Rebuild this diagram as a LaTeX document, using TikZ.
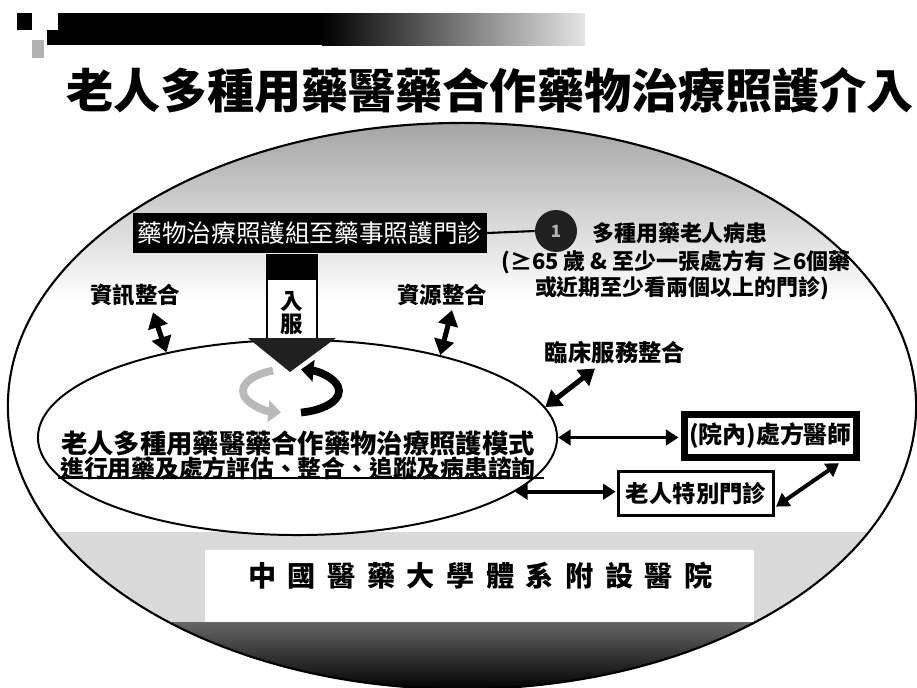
\documentclass[tikz,border=0pt]{standalone}
\usepackage{fontspec}
\usetikzlibrary{arrows.meta,shapes.geometric}
\newfontfamily\cjk{Noto Sans CJK TC}
\newcommand\cgap{\hspace{0.41em}}
\begin{document}
\begin{tikzpicture}[x=0.025cm,y=-0.025cm,
  bt/.style={font=\cjk\bfseries\fontsize{#1}{#1}\selectfont, inner sep=0pt},
  bt/.default=16,
  dbl/.style={{Triangle[length=9pt,width=11pt]}-{Triangle[length=9pt,width=11pt]}, line width=2.8pt},
  dblbig/.style={{Triangle[length=11pt,width=14pt]}-{Triangle[length=11pt,width=14pt]}, line width=3.6pt},
  cyc/.style={line width=5.5pt, -{Triangle[length=9pt,width=15pt]}}
]
\useasboundingbox (0,0) rectangle (917,687);
% header bar
\fill[black] (17,13) rectangle (32,30);
\fill[black] (58,13) rectangle (322,45);
\fill[black] (47,30) rectangle (58,45);
\shade[left color=black, right color=gray!20] (322,13) rectangle (585,45);
\fill[gray!60] (32,40) rectangle (44,58);
% title
\node[bt=33.5] (title) at (490,90) {老人多種用藥醫藥合作藥物治療照護介入};
% big ellipse
\coordinate (bigc) at (462,406);
\begin{scope}
\clip (bigc) ellipse [x radius=11.35cm, y radius=7.075cm];
\fill[white] (0,100) rectangle (917,690);
\shade[top color=gray!72, middle color=gray!50, bottom color=white] (0,120) rectangle (917,300);
\fill[gray!30] (0,532) rectangle (917,624);
\fill[white] (205,550) rectangle (754,624);
\shade[top color=gray!80!black, bottom color=black] (0,622) rectangle (917,690);
\end{scope}
\draw[line width=1.5pt] (bigc) ellipse [x radius=11.35cm, y radius=7.075cm];
% inner ellipse
\node[ellipse, draw, line width=1.4pt, fill=white, minimum width=12.975cm, minimum height=4.875cm, inner sep=0pt] (inner) at (297.5,437.5) {};
% vertical box with block arrow
\node[draw, line width=1.2pt, fill=white, minimum width=1.25cm, minimum height=2.125cm, inner sep=0pt] (vbox) at (292,297.5) {};
\fill[black] (vbox.north west) rectangle ([yshift=-0.65cm]vbox.north east);
\node[bt=16] (ru) at (292,302) {入};
\node[bt=16] (fu) at (292,324) {服};
% cycle arrows
\coordinate (cyc) at (291,391);
\draw[cyc, gray!55] (cyc) ++(112:1.2cm and 0.55cm) arc[start angle=112, end angle=258, x radius=1.2cm, y radius=0.55cm];
\draw[cyc] (cyc) ++(-78:1.2cm and 0.55cm) arc[start angle=-78, end angle=78, x radius=1.2cm, y radius=0.55cm];
\fill[gray!25!black] (248,338) -- (336,338) -- (290,372) -- cycle;
% inner texts
\node[bt=18.7] (model) at (298,443) {老人多種用藥醫藥合作藥物治療照護模式};
\node[bt=16.9] (task) at (298,468) {進行用藥及處方評估、整合、追蹤及病患諮詢};
\draw[line width=1.4pt] ([xshift=-0.06cm,yshift=0.05cm]task.south west) -- ([xshift=0.21cm,yshift=0.05cm]task.south east);
% top bar and criteria
\node[fill=black, text=white, minimum width=8.65cm, minimum height=1cm, font=\cjk\fontsize{17.5}{20}\selectfont] (bar) at (310,233) {藥物治療照護組至藥事照護門診};
\node[circle, fill=gray!25!black, minimum size=1.05cm, inner sep=0pt, text=gray!60, font=\cjk\bfseries\fontsize{12}{12}\selectfont] (one) at (556,231) {1};
\draw[line width=1.5pt] (bar.east) -- (one.west);
\node[bt=15.6] (pat) at (680,233) {多種用藥老人病患};
\node[bt=15.6] (crit1) at (676,262) {(≥65 歲 \& 至少一張處方有 ≥6個藥};
\node[bt=15.6] (crit2) at (682,288) {或近期至少看兩個以上的門診)};
% labels
\node[bt=16] (info) at (135,295) {資訊整合};
\node[bt=16] (res) at (442,295) {資源整合};
\node[bt=16.6] (clin) at (615,352) {臨床服務整合};
\draw[dblbig] ([xshift=0.45cm,yshift=-0.15cm]info.south) -- (inner.147);
\draw[dblbig] ([xshift=0.25cm,yshift=-0.1cm]res.south) -- (inner.30.6);
\draw[dblbig] (inner.7.5) -- ([xshift=-0.5cm,yshift=-0.125cm]clin.south);
% boxes
\node[draw, line width=4.5pt, fill=white, minimum width=4.3cm, minimum height=1.08cm, bt=17] (doc) at (770.5,436) {(院內)處方醫師};
\node[draw, line width=2pt, fill=white, minimum width=3.875cm, minimum height=1.1cm, bt=16.6] (clinic) at (696,493.5) {老人特別門診};
\draw[dbl, shorten >=2pt] (inner.east) -- (inner.east -| doc.west);
\draw[dbl, shorten >=1pt] (inner.-14.5) -- (inner.-14.5 -| clinic.west);
\draw[dbl, shorten <=1pt, shorten >=3pt] (clinic.-10) -- (doc.-19);
% hospital name
\node[bt=20] (hosp) at (480.5,576) {中\cgap 國\cgap 醫\cgap 藥\cgap 大\cgap 學\cgap 體\cgap 系\cgap 附\cgap 設\cgap 醫\cgap 院};
\end{tikzpicture}
\end{document}
